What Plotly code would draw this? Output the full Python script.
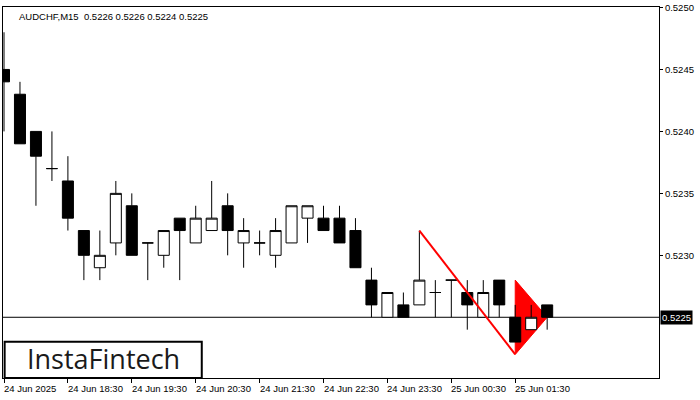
import plotly.graph_objects as go

# ---- data ----
opens  = [0.5245, 0.5243, 0.5240, 0.5237, 0.5236, 0.5232, 0.5229, 0.5231, 0.5234, 0.5231,
          0.5230, 0.5233, 0.5231, 0.5232, 0.5234, 0.5231, 0.5231, 0.5230, 0.5231, 0.5233,
          0.5233, 0.5233, 0.5232, 0.5228, 0.5225, 0.5226, 0.5226, 0.5227, 0.5228, 0.5227,
          0.5225, 0.5228, 0.5225, 0.5224, 0.5226]
highs  = [0.5248, 0.5244, 0.5240, 0.5240, 0.5238, 0.5232, 0.5232, 0.5236, 0.5235, 0.5231,
          0.5232, 0.5233, 0.5234, 0.5236, 0.5235, 0.5233, 0.5232, 0.5233, 0.5234, 0.5234,
          0.5234, 0.5234, 0.5233, 0.5229, 0.5227, 0.5227, 0.5232, 0.5228, 0.5228, 0.5228,
          0.5228, 0.5228, 0.5226, 0.5226, 0.5226]
lows   = [0.5240, 0.5239, 0.5234, 0.5236, 0.5232, 0.5228, 0.5228, 0.5230, 0.5230, 0.5228,
          0.5229, 0.5228, 0.5231, 0.5232, 0.5230, 0.5229, 0.5230, 0.5229, 0.5231, 0.5231,
          0.5232, 0.5231, 0.5229, 0.5225, 0.5225, 0.5225, 0.5226, 0.5225, 0.5225, 0.5224,
          0.5225, 0.5225, 0.5223, 0.5224, 0.5224]
closes = [0.5244, 0.5239, 0.5238, 0.5237, 0.5233, 0.5230, 0.5230, 0.5235, 0.5230, 0.5231,
          0.5232, 0.5232, 0.5233, 0.5233, 0.5232, 0.5232, 0.5231, 0.5232, 0.5234, 0.5234,
          0.5232, 0.5231, 0.5229, 0.5226, 0.5227, 0.5225, 0.5228, 0.5227, 0.5228, 0.5226,
          0.5227, 0.5226, 0.5223, 0.5225, 0.5225]
bar_index = list(range(len(opens)))

tick_positions = [0, 4, 8, 12, 16, 20, 24, 28, 32]
tick_labels = ["24 Jun 2025", "24 Jun 18:30", "24 Jun 19:30", "24 Jun 20:30", "24 Jun 21:30",
               "24 Jun 22:30", "24 Jun 23:30", "25 Jun 00:30", "25 Jun 01:30"]
price_ticks = [0.5230, 0.5235, 0.5240, 0.5245, 0.5250]
current_price = 0.5225

# pattern: trend line and pennant
trend_x = [26, 32]
trend_y = [0.5232, 0.5222]
pennant_x = [32, 34, 32]
pennant_y = [0.5228, 0.5225, 0.5222]

title_text = "AUDCHF,M15\u00a0\u00a00.5226 0.5226 0.5224 0.5225"
logo_text = "InstaFintech"

FONT = "Liberation Sans"
FS = 9.5

fig = go.Figure()

fig.add_trace(go.Candlestick(
    x=bar_index, open=opens, high=highs, low=lows, close=closes,
    increasing=dict(fillcolor="white", line=dict(color="black", width=1)),
    decreasing=dict(fillcolor="black", line=dict(color="black", width=1)),
    whiskerwidth=0, hoverinfo="skip"))

pennant_path = "M " + " L ".join(f"{px},{py}" for px, py in zip(pennant_x, pennant_y)) + " Z"

shapes = [
    dict(type="path", xref="x", yref="y", path=pennant_path,
         fillcolor="#ff0000", line=dict(color="#ff0000", width=1), layer="below"),
    dict(type="line", xref="paper", yref="y", x0=0, x1=1, y0=current_price, y1=current_price,
         line=dict(color="black", width=1), layer="below"),
    dict(type="line", xref="x", yref="y", x0=trend_x[0], y0=trend_y[0], x1=trend_x[1], y1=trend_y[1],
         line=dict(color="#ff0000", width=2), layer="above"),
    dict(type="rect", xref="paper", yref="paper", x0=0.0025, x1=0.303, y0=0.0, y1=0.098,
         line=dict(color="black", width=2), fillcolor="white", layer="above"),
]

annotations = []
for pos, lab in zip(tick_positions, tick_labels):
    annotations.append(dict(x=pos, y=0, xref="x", yref="paper", text=lab, showarrow=False,
                            xanchor="left", yanchor="top", xshift=-2, yshift=-3,
                            font=dict(family=FONT, size=FS, color="black")))
annotations.append(dict(x=0, y=1, xref="paper", yref="paper", text=title_text, showarrow=False,
                        xanchor="left", yanchor="top", xshift=14, yshift=-2,
                        font=dict(family=FONT, size=FS, color="black")))
annotations.append(dict(x=1, y=current_price, xref="paper", yref="y", text=f"{current_price:.4f}",
                        showarrow=False, xanchor="left", yanchor="middle", xshift=1,
                        bgcolor="black", borderpad=1,
                        font=dict(family=FONT, size=FS, color="white")))
annotations.append(dict(x=0.1525, y=0.052, xref="paper", yref="paper", text=logo_text, showarrow=False,
                        xanchor="center", yanchor="middle",
                        font=dict(family="Open Sans", size=27, color="#1a1a1a")))

fig.update_layout(
    width=700, height=400,
    margin=dict(l=2, r=41, t=3, b=22),
    paper_bgcolor="white", plot_bgcolor="white",
    showlegend=False,
    boxgap=0.31, boxgroupgap=0,
    shapes=shapes, annotations=annotations,
    xaxis=dict(range=[-0.0625, 41.0], rangeslider=dict(visible=False), showgrid=False, zeroline=False,
               showline=True, mirror=True, linecolor="black", linewidth=1,
               tickmode="array", tickvals=tick_positions, showticklabels=False,
               ticks="outside", ticklen=4, tickcolor="black", tickwidth=1),
    yaxis=dict(range=[0.52201, 0.525004], side="right", showgrid=False, zeroline=False,
               showline=True, mirror=True, linecolor="black", linewidth=1,
               tickmode="array", tickvals=price_ticks, tickformat=".4f",
               ticks="outside", ticklen=3, tickcolor="black", tickwidth=1,
               ticklabeloverflow="allow",
               tickfont=dict(family=FONT, size=FS, color="black")),
)

fig.write_html("out.html", config={"displayModeBar": False},
               post_script="document.body.style.margin='0';document.body.style.overflow='hidden';")
